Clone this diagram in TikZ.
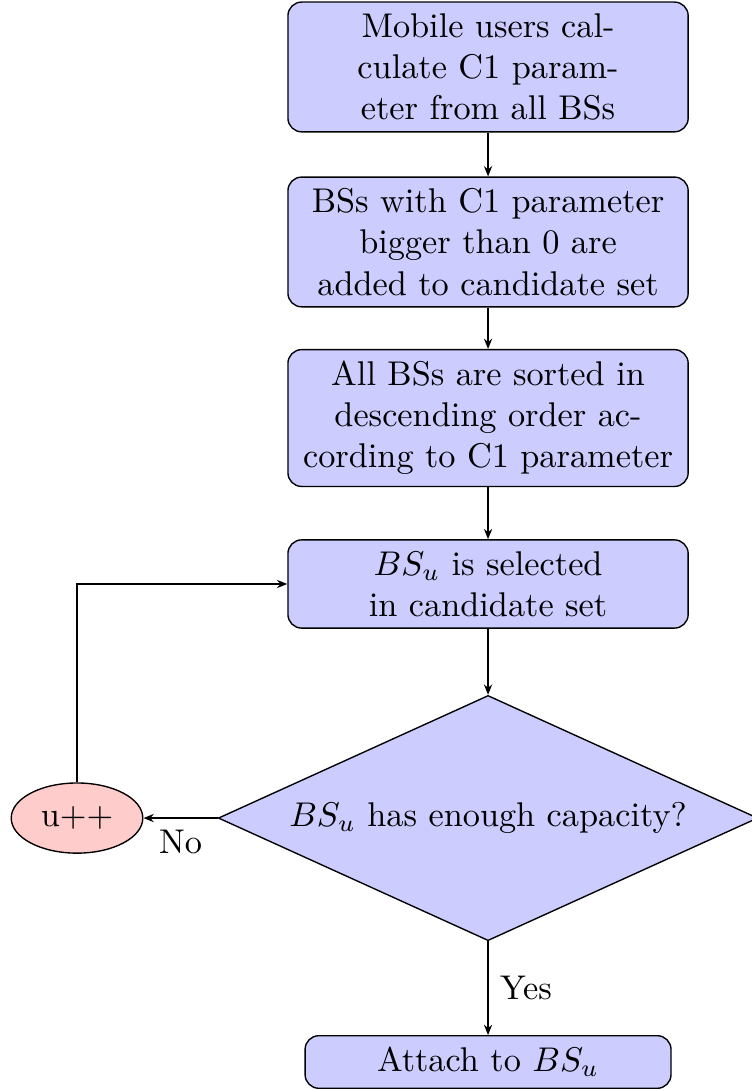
\documentclass[tikz,border=0pt]{standalone}
\usepackage{amsmath}
\usetikzlibrary{positioning, arrows.meta, shapes.geometric}

\begin{document}
\begin{tikzpicture}[>={Stealth[length=3pt, width=2.4pt]}, every node/.style={align=center},
    procbox/.style={draw, rounded corners=4pt, text width=11em, fill=blue!20},
    testbox/.style={draw, diamond, aspect=2.2, fill=blue!20},
    loopnode/.style={draw, ellipse, fill=red!20, inner xsep=3pt, inner ysep=3.9pt}]
    \useasboundingbox (0,0) rectangle (7.694,-11.167);
    % Process boxes
    \node[procbox] (calc) at (5.0,-0.686)
        {Mobile users cal-\\culate C1 param-\\eter from all BSs};
    \node[procbox] (cand) at (5.0,-2.479)
        {BSs with C1 parameter\\bigger than 0 are\\added to candidate set};
    \node[procbox] (sort) at (5.0,-4.283)
        {All BSs are sorted in\\descending order ac-\\cording to C1 parameter};
    \node[procbox] (select) at (5.0,-5.983)
        {$BS_u$ is selected\\in candidate set};
    % Decision
    \node[testbox] (test) at (5.0,-8.381)
        {$BS_u$ has enough capacity?};
    % Counter
    \node[loopnode] (incr) at (0.789,-8.381) {u++};
    % Final box
    \node[procbox, text width=10em] (attach) at (5.0,-10.88)
        {Attach to $BS_u$};
    % Arrows
    \draw[->] (calc) -- (cand);
    \draw[->] (cand) -- (sort);
    \draw[->] (sort) -- (select);
    \draw[->] (select) -- (test);
    \draw[->] (test) -- (incr) node[midway, below] {No};
    \draw[->] (test) -- (attach) node[midway, right] {Yes};
    \draw[->] (incr) |- (select);
\end{tikzpicture}
\end{document}
